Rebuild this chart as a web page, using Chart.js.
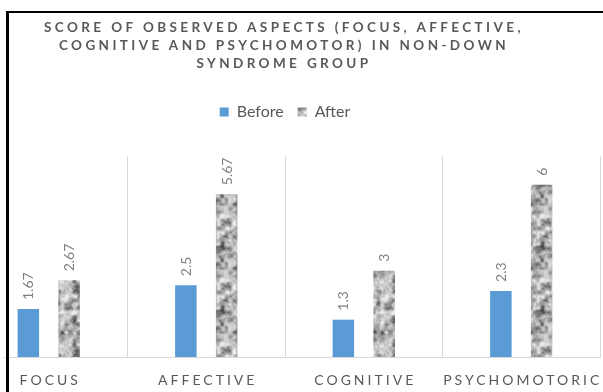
<!DOCTYPE html>
<html>
<head>
<meta charset="utf-8">
<script src="https://cdn.jsdelivr.net/npm/chart.js@4.4.1/dist/chart.umd.min.js"></script>
<style>
  html, body { margin: 0; padding: 0; background: #fff; overflow: hidden; width: 603px; height: 392px; }
  #frame { position: absolute; left: 6px; top: 11px; width: 800px; height: 600px;
           border-top: 2px solid #000; border-left: 3px solid #000; box-sizing: border-box; z-index: 3; pointer-events: none; }
  #title { position: absolute; top: 18px; left: 284px; transform: translateX(-50%);
           font-family: Lato, 'Noto Sans', sans-serif; font-weight: bold; font-size: 13.5px;
           letter-spacing: 3.4px; color: #595959; text-align: center; white-space: nowrap; z-index: 2; }
  #title div { line-height: 18px; }
  #clip { position: absolute; left: 4px; top: 0; width: 599px; height: 392px; overflow: hidden; }
  #box { position: absolute; left: -34px; top: 0; width: 640px; height: 392px; }
</style>
</head>
<body>
<div id="clip"><div id="box"><canvas id="c"></canvas></div></div>
<div id="title"></div>
<div id="frame"></div>
<script>
const titleLines = ['SCORE OF OBSERVED ASPECTS (FOCUS, AFFECTIVE,', 'COGNITIVE AND PSYCHOMOTOR) IN NON-DOWN', 'SYNDROME GROUP'];
const categories = ['FOCUS', 'AFFECTIVE', 'COGNITIVE', 'PSYCHOMOTORIC'];
const seriesNames = ['Before', 'After'];
const beforeValues = [1.67, 2.5, 1.3, 2.3];
const afterValues = [2.67, 5.67, 3, 6];
const yMin = 0, yMax = 7;

const titleEl = document.getElementById('title');
titleLines.forEach(t => { const d = document.createElement('div'); d.textContent = t; titleEl.appendChild(d); });

function makeGranite() {
  const s = 64;
  const cv = document.createElement('canvas'); cv.width = cv.height = s;
  const g = cv.getContext('2d');
  const img = g.createImageData(s, s);
  const hash = (i, j, k) => { const v = Math.sin(i * 127.1 + j * 311.7 + k * 74.7) * 43758.5453; return v - Math.floor(v); };
  function noise(x, y, cell, k) {
    const n = s / cell, gx = x / cell, gy = y / cell;
    const x0 = Math.floor(gx), y0 = Math.floor(gy);
    const fx = gx - x0, fy = gy - y0;
    const sx = fx * fx * (3 - 2 * fx), sy = fy * fy * (3 - 2 * fy);
    const a = hash(x0 % n, y0 % n, k), b = hash((x0 + 1) % n, y0 % n, k);
    const c = hash(x0 % n, (y0 + 1) % n, k), d = hash((x0 + 1) % n, (y0 + 1) % n, k);
    return a + (b - a) * sx + (c - a) * sy + (a - b - c + d) * sx * sy;
  }
  for (let y = 0; y < s; y++) {
    for (let x = 0; x < s; x++) {
      const v = 0.35 * noise(x, y, 8, 1) + 0.45 * noise(x, y, 4, 2) + 0.2 * noise(x, y, 2, 3);
      let t = (v - 0.2) / 0.55; t = Math.max(0, Math.min(1, t));
      const gray = Math.round(75 + Math.pow(t, 0.75) * 160);
      const i = (y * s + x) * 4;
      img.data[i] = img.data[i + 1] = img.data[i + 2] = gray; img.data[i + 3] = 255;
    }
  }
  g.putImageData(img, 0, 0);
  return document.getElementById('c').getContext('2d').createPattern(cv, 'repeat');
}
const granite = makeGranite();

Chart.defaults.font.family = 'Lato, "Noto Sans", sans-serif';

const legendSpacer = {
  id: 'legendSpacer',
  beforeLayout(chart) {
    const lg = chart.legend;
    if (lg && !lg._spacerPatched) {
      const f = lg.fit;
      lg.fit = function () { f.call(this); this.height += 26; };
      lg._spacerPatched = true;
    }
  }
};

const valueLabels = {
  id: 'valueLabels',
  afterDatasetsDraw(chart) {
    const ctx = chart.ctx;
    ctx.save();
    ctx.font = '14px Lato, "Noto Sans", sans-serif';
    ctx.fillStyle = '#7f7f7f';
    ctx.textAlign = 'left';
    ctx.textBaseline = 'alphabetic';
    chart.data.datasets.forEach((ds, di) => {
      chart.getDatasetMeta(di).data.forEach((bar, i) => {
        ctx.save();
        ctx.translate(bar.x, bar.y - 9);
        ctx.rotate(-Math.PI / 2);
        ctx.fillText(String(ds.data[i]), 0, 5);
        ctx.restore();
      });
    });
    ctx.restore();
  }
};

const categoryLabels = {
  id: 'categoryLabels',
  afterDraw(chart) {
    const ctx = chart.ctx, xs = chart.scales.x;
    ctx.save();
    ctx.font = '14px Lato, "Noto Sans", sans-serif';
    ctx.fillStyle = '#595959';
    ctx.textAlign = 'center';
    ctx.textBaseline = 'alphabetic';
    ctx.letterSpacing = '3px';
    categories.forEach((c, i) => {
      ctx.fillText(c, xs.getPixelForValue(i) + 1.5, 385);
    });
    ctx.restore();
  }
};

new Chart(document.getElementById('c'), {
  type: 'bar',
  data: {
    labels: categories,
    datasets: [
      { label: seriesNames[0], data: beforeValues, backgroundColor: '#5B9BD5', borderWidth: 0 },
      { label: seriesNames[1], data: afterValues, backgroundColor: granite, borderWidth: 0 }
    ]
  },
  options: {
    responsive: true,
    maintainAspectRatio: false,
    animation: false,
    devicePixelRatio: 1,
    categoryPercentage: 0.518,
    barPercentage: 0.527,
    layout: { padding: { top: 90, bottom: 35, left: 0, right: 10 } },
    plugins: {
      title: { display: false },
      tooltip: { enabled: false },
      legend: {
        display: true,
        position: 'top',
        labels: { boxWidth: 9, boxHeight: 9, padding: 14, color: '#595959',
                  font: { size: 16, family: 'Lato, "Noto Sans", sans-serif' } }
      }
    },
    scales: {
      x: {
        offset: true,
        grid: { display: true, color: '#D9D9D9', lineWidth: 1, drawTicks: false, offset: true },
        border: { display: true, color: '#D9D9D9', width: 1 },
        ticks: { display: false }
      },
      y: { display: false, min: yMin, max: yMax }
    }
  },
  plugins: [legendSpacer, valueLabels, categoryLabels]
});
</script>
</body>
</html>
